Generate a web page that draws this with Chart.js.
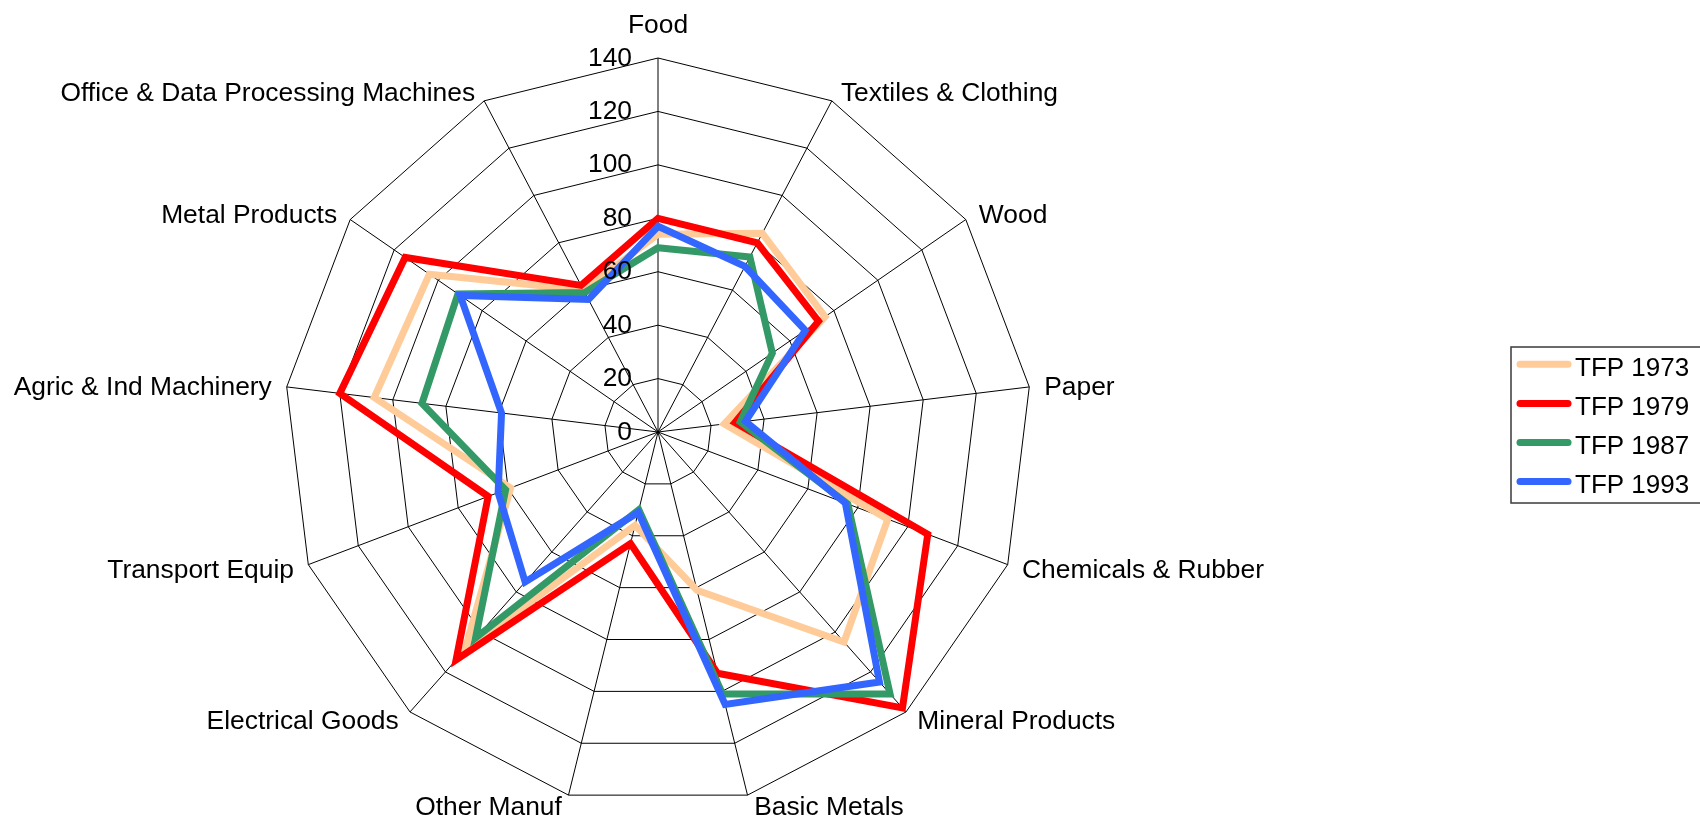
<!DOCTYPE html>
<html>
<head>
<meta charset="utf-8">
<script src="https://cdn.jsdelivr.net/npm/chart.js@4.4.1/dist/chart.umd.min.js"></script>
<style>
  html, body { margin: 0; padding: 0; background: #ffffff; }
  #wrap { width: 1700px; height: 820px; position: relative; }
</style>
</head>
<body>
<div id="wrap"><canvas id="c" width="1700" height="820"></canvas></div>
<script>
// ---------------- data ----------------
const categories = [
  'Food', 'Textiles & Clothing', 'Wood', 'Paper', 'Chemicals & Rubber',
  'Mineral Products', 'Basic Metals', 'Other Manuf', 'Electrical Goods',
  'Transport Equip', 'Agric & Ind Machinery', 'Metal Products',
  'Office & Data Processing Machines'
];
const seriesNames = ['TFP 1973', 'TFP 1979', 'TFP 1987', 'TFP 1993'];
const tfp1973 = [74, 84, 76, 25, 92, 105, 61, 36, 109, 59, 107, 104, 60];
const tfp1979 = [80, 80, 73, 29, 108, 138, 93, 43, 114, 68, 120, 115, 62];
const tfp1987 = [69, 74, 52, 31, 76, 131, 101, 30, 103, 61, 89, 91, 59];
const tfp1993 = [77, 70, 67, 33, 75, 125, 105, 31, 75, 64, 59, 90, 56];
const tickValues = [0, 20, 40, 60, 80, 100, 120, 140];
const tickLabels = ['0', '20', '40', '60', '80', '100', '120', '140'];

// ---------------- styles ----------------
const FONT = '"Liberation Sans", Arial, Helvetica, sans-serif';
const seriesColors = ['#FFCC99', '#FF0000', '#339966', '#3366FF'];
const seriesData = [tfp1973, tfp1979, tfp1987, tfp1993];

const datasets = seriesData.map((d, k) => ({
  label: seriesNames[k],
  data: d,
  borderColor: seriesColors[k],
  backgroundColor: seriesColors[k],
  borderWidth: 7,
  borderJoinStyle: 'miter',
  pointRadius: 0,
  pointHoverRadius: 0,
  fill: false,
  tension: 0,
  order: seriesData.length - 1 - k
}));

// text drawn with the radial scale's own geometry
const radarText = {
  id: 'radarText',
  afterDatasetsDraw(chart) {
    const s = chart.scales.r;
    const ctx = chart.ctx;
    ctx.save();
    ctx.fillStyle = '#000000';
    ctx.font = '26.4px ' + FONT;
    ctx.textBaseline = 'alphabetic';
    // tick labels
    ctx.textAlign = 'right';
    s.ticks.forEach((t, idx) => {
      const y = s.yCenter - s.getDistanceFromCenterForValue(t.value);
      ctx.fillText(tickLabels[idx] !== undefined ? tickLabels[idx] : String(t.value), s.xCenter - 26, y + 7.5);
    });
    // category labels
    categories.forEach((lab, i) => {
      const p = s.getPointPosition(i, s.drawingArea);
      const a = s.getIndexAngle(i);
      const sn = Math.sin(a), cs = Math.cos(a);
      if (Math.abs(sn) < 1e-6) {
        ctx.textAlign = 'center';
        ctx.fillText(lab, p.x, cs > 0 ? p.y - 25 : p.y + 45);
        return;
      }
      ctx.textAlign = sn > 0 ? 'left' : 'right';
      const dx = (4 + 11 * Math.abs(sn)) * Math.sign(sn);
      ctx.fillText(lab, p.x + dx, p.y + 9.5 - 10.5 * cs);
    });
    ctx.restore();
  }
};

const boxLegend = {
  id: 'boxLegend',
  afterDraw(chart) {
    const ctx = chart.ctx;
    ctx.save();
    ctx.strokeStyle = '#3a3a3a';
    ctx.lineWidth = 1.5;
    ctx.strokeRect(1511, 347, 260, 156);
    ctx.font = '26px ' + FONT;
    ctx.textAlign = 'left';
    ctx.textBaseline = 'alphabetic';
    seriesNames.forEach((name, k) => {
      const y = 364.3 + k * 39.1;
      ctx.beginPath();
      ctx.strokeStyle = seriesColors[k];
      ctx.lineWidth = 7;
      ctx.lineCap = 'round';
      ctx.moveTo(1520, y);
      ctx.lineTo(1568, y);
      ctx.stroke();
      ctx.fillStyle = '#000000';
      ctx.fillText(name, 1575, y + 11.7);
    });
    ctx.restore();
  }
};

new Chart(document.getElementById('c'), {
  type: 'radar',
  data: { labels: categories, datasets: datasets },
  options: {
    responsive: false,
    maintainAspectRatio: false,
    devicePixelRatio: 1,
    animation: false,
    events: [],
    layout: { padding: { left: 284, right: 668, top: 58, bottom: 14 } },
    plugins: {
      legend: { display: false },
      tooltip: { enabled: false },
      title: { display: false }
    },
    elements: { line: { tension: 0 } },
    scales: {
      r: {
        min: 0,
        max: 140,
        startAngle: 0,
        afterBuildTicks: (scale) => { scale.ticks = tickValues.map(v => ({ value: v })); },
        ticks: { display: false, stepSize: 20 },
        pointLabels: { display: false },
        grid: { display: true, circular: false, color: '#000000', lineWidth: 1 },
        angleLines: { display: true, color: '#000000', lineWidth: 1 }
      }
    }
  },
  plugins: [radarText, boxLegend]
});
</script>
</body>
</html>
